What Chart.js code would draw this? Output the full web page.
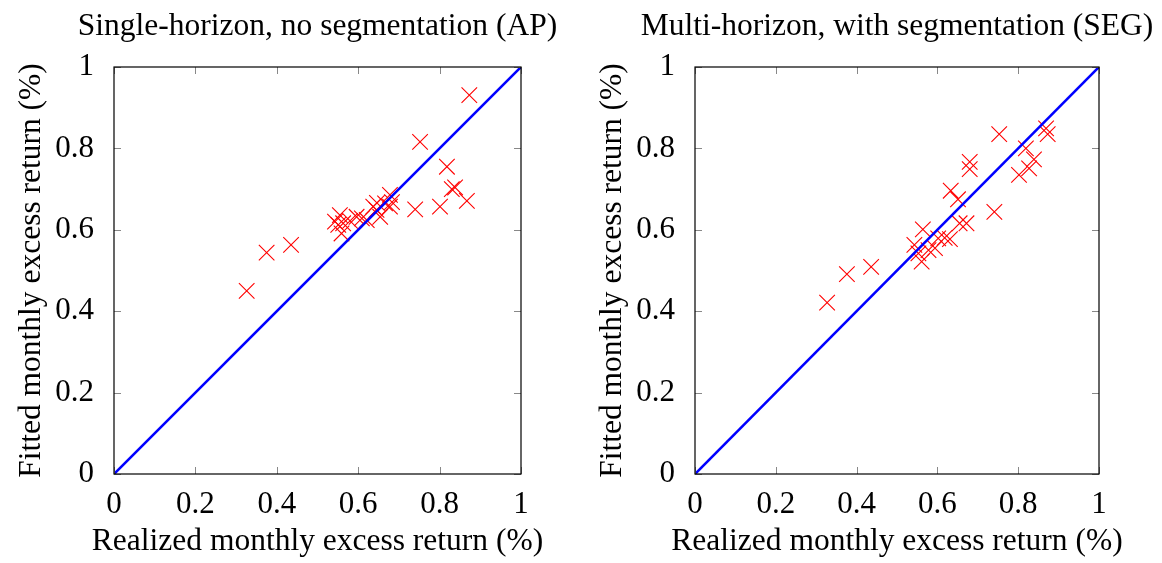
<!DOCTYPE html>
<html>
<head>
<meta charset="utf-8">
<script src="https://cdn.jsdelivr.net/npm/chart.js@4.4.1/dist/chart.umd.min.js"></script>
<style>
  body { margin: 0; background: #fff; }
  #wrap { display: flex; width: 1162px; height: 563px; }
  canvas { display: block; }
</style>
</head>
<body>
<div id="wrap">
  <canvas id="apChart" width="581" height="563"></canvas>
  <canvas id="segChart" width="581" height="563"></canvas>
</div>
<script>
// values (monthly excess returns, %)
const apRealized = [0.326, 0.375, 0.435, 0.543, 0.551, 0.555, 0.559, 0.563, 0.580, 0.596, 0.609, 0.621, 0.637, 0.645,
                    0.646, 0.654, 0.666, 0.678, 0.678, 0.683, 0.740, 0.752, 0.801, 0.818, 0.830, 0.838, 0.867, 0.873];
const apFitted   = [0.450, 0.544, 0.563, 0.620, 0.612, 0.636, 0.591, 0.616, 0.622, 0.632, 0.628, 0.624, 0.657, 0.649,
                    0.666, 0.632, 0.665, 0.657, 0.686, 0.668, 0.650, 0.816, 0.657, 0.755, 0.700, 0.704, 0.671, 0.931];

const segRealized = [0.327, 0.376, 0.436, 0.543, 0.553, 0.561, 0.564, 0.578, 0.594, 0.602, 0.618, 0.631, 0.633,
                     0.651, 0.655, 0.672, 0.680, 0.680, 0.741, 0.753, 0.802, 0.819, 0.827, 0.839, 0.869, 0.873];
const segFitted   = [0.421, 0.491, 0.509, 0.563, 0.542, 0.522, 0.601, 0.550, 0.555, 0.579, 0.580, 0.577, 0.696,
                     0.675, 0.616, 0.616, 0.767, 0.749, 0.644, 0.835, 0.735, 0.800, 0.751, 0.773, 0.849, 0.835];

const diagonal = [0, 1];
const tickValues = [0, 0.2, 0.4, 0.6, 0.8, 1];
const tickLabels = ['0', '0.2', '0.4', '0.6', '0.8', '1'];

const serif = "'Liberation Serif', 'Times New Roman', serif";
const xTitle = 'Realized monthly excess return (%)';
const yTitle = 'Fitted monthly excess return (%)';

// black frame + short inward ticks on all four sides, like pgfplots
const frameTicks = {
    id: 'frameTicks',
    afterDraw(chart) {
        const { ctx, chartArea: a, scales } = chart;
        ctx.save();
        ctx.strokeStyle = '#888';
        ctx.lineWidth = 1;
        const len = 7;
        tickValues.forEach(v => {
            const x = Math.round(scales.x.getPixelForValue(v)) + 0.5;
            const y = Math.round(scales.y.getPixelForValue(v)) + 0.5;
            ctx.beginPath();
            ctx.moveTo(x, a.bottom); ctx.lineTo(x, a.bottom - len);
            ctx.moveTo(x, a.top); ctx.lineTo(x, a.top + len);
            ctx.moveTo(a.left, y); ctx.lineTo(a.left + len, y);
            ctx.moveTo(a.right, y); ctx.lineTo(a.right - len, y);
            ctx.stroke();
        });
        ctx.strokeStyle = '#000';
        ctx.lineWidth = 1.2;
        ctx.strokeRect(a.left, a.top, a.right - a.left, a.bottom - a.top);
        ctx.restore();
    }
};

// title and axis titles, drawn without Chart.js squeezing them to the plot width
const plotTexts = {
    id: 'plotTexts',
    afterDraw(chart, args, opts) {
        const { ctx, chartArea: a } = chart;
        const cx = (a.left + a.right) / 2;
        const cy = (a.top + a.bottom) / 2;
        ctx.save();
        ctx.font = '31.5px ' + serif;
        ctx.fillStyle = '#000';
        ctx.textAlign = 'center';
        ctx.textBaseline = 'middle';
        ctx.fillText(opts.text, cx, 27);
        ctx.font = '31.5px ' + serif;
        ctx.fillText(xTitle, cx, 542);
        ctx.translate(a.left - 82, cy);
        ctx.rotate(-Math.PI / 2);
        ctx.fillText(yTitle, 0, 0);
        ctx.restore();
    }
};

function makeChart(id, title, realized, fitted, padLeft, padRight) {
    const points = realized.map((x, i) => ({ x: x, y: fitted[i] }));
    const line = diagonal.map(v => ({ x: v, y: v }));
    return new Chart(document.getElementById(id), {
        type: 'scatter',
        data: {
            datasets: [{
                data: line,
                showLine: true,
                borderColor: '#0000ff',
                borderWidth: 2.6,
                pointRadius: 0
            }, {
                data: points,
                pointStyle: 'crossRot',
                pointRadius: 11,
                borderColor: '#ff0000',
                borderWidth: 1.1
            }]
        },
        options: {
            responsive: false,
            animation: false,
            layout: { padding: { top: 67, left: padLeft, right: padRight, bottom: 0 } },
            plugins: {
                legend: { display: false },
                tooltip: { enabled: false },
                plotTexts: { text: title }
            },
            scales: {
                x: {
                    type: 'linear', min: 0, max: 1,
                    afterBuildTicks: s => { s.ticks = tickValues.map(v => ({ value: v })); },
                    afterFit: s => { s.height = 89; },
                    grid: { display: false },
                    border: { display: false },
                    ticks: {
                        padding: 4,
                        color: '#000',
                        font: { family: serif, size: 31 },
                        callback: (v, i) => tickLabels[i]
                    }
                },
                y: {
                    type: 'linear', min: 0, max: 1,
                    afterBuildTicks: s => { s.ticks = tickValues.map(v => ({ value: v })); },
                    afterFit: s => { s.width = 114 - padLeft; },
                    grid: { display: false },
                    border: { display: false },
                    ticks: {
                        padding: 12,
                        color: '#000',
                        font: { family: serif, size: 31 },
                        callback: (v, i) => tickLabels[i]
                    }
                }
            }
        },
        plugins: [frameTicks, plotTexts]
    });
}

makeChart('apChart', 'Single-horizon, no segmentation (AP)', apRealized, apFitted, 0, 60);
makeChart('segChart', 'Multi-horizon, with segmentation (SEG)', segRealized, segFitted, -4, 63);
</script>
</body>
</html>
